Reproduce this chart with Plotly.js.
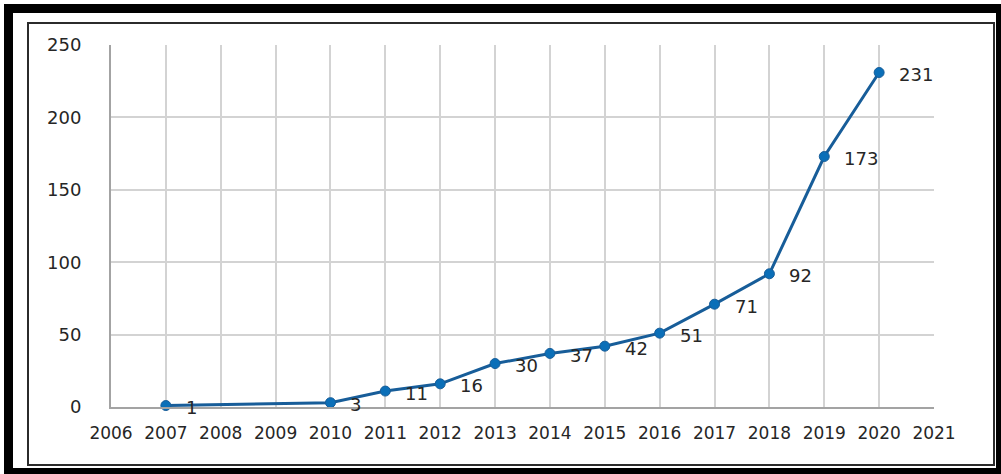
<!DOCTYPE html>
<html>
<head>
<meta charset="utf-8">
<script src="https://cdn.plot.ly/plotly-3.0.1.min.js"></script>
<style>
  html, body { margin: 0; padding: 0; background: #fff; overflow: hidden; }
  #wrap { position: relative; width: 1001px; height: 474px; overflow: hidden; }
  #chart { position: absolute; left: 0; top: 0; width: 1001px; height: 474px; }
  .frame-outer { position: absolute; left: 4px; top: 4px; width: 1001px; height: 473px;
    box-sizing: border-box; border: 9px solid #000; pointer-events: none; }
  .frame-inner { position: absolute; left: 27px; top: 22px; width: 968px; height: 444px;
    box-sizing: border-box; border: 2px solid #2b2b2b; pointer-events: none; }
</style>
</head>
<body>
<div id="wrap">
  <div id="chart"></div>
  <div class="frame-outer"></div>
  <div class="frame-inner"></div>
</div>
<script>
const years = [2007, 2010, 2011, 2012, 2013, 2014, 2015, 2016, 2017, 2018, 2019, 2020];
const counts = [1, 3, 11, 16, 30, 37, 42, 51, 71, 92, 173, 231];
const xTickVals = [2006, 2007, 2008, 2009, 2010, 2011, 2012, 2013, 2014, 2015, 2016, 2017, 2018, 2019, 2020, 2021];
const yTickVals = [0, 50, 100, 150, 200, 250];

const FONT = 'DejaVu Sans, Verdana, sans-serif';
const TEXT = '#262626';

const trace = {
  x: years,
  y: counts,
  type: 'scatter',
  mode: 'lines+markers',
  line: { color: '#175d99', width: 3 },
  marker: { color: '#0b6fb8', size: 10, line: { color: '#175d99', width: 1 } },
  hoverinfo: 'skip',
  cliponaxis: false
};

const annotations = years.map((yr, i) => ({
  x: yr, y: counts[i], xref: 'x', yref: 'y',
  text: String(counts[i]), showarrow: false,
  xanchor: 'left', yanchor: 'middle',
  xshift: 18, yshift: -2,
  font: { family: FONT, size: 18, color: TEXT }
}));

const layout = {
  width: 1001, height: 474,
  margin: { l: 111, r: 67, t: 45, b: 67 },
  paper_bgcolor: 'rgba(0,0,0,0)',
  plot_bgcolor: '#fff',
  showlegend: false,
  xaxis: {
    range: [2006, 2021],
    tickmode: 'array', tickvals: xTickVals, ticktext: xTickVals.map(String),
    showgrid: true, gridcolor: '#d3d3d3', gridwidth: 2,
    showline: true, linecolor: '#a3a3a3', linewidth: 2,
    zeroline: false, ticks: '',
    ticklabelstandoff: 10,
    tickfont: { family: FONT, size: 17, color: TEXT },
    fixedrange: true
  },
  yaxis: {
    range: [0, 250],
    tickmode: 'array', tickvals: yTickVals, ticktext: yTickVals.map(String),
    showgrid: true, gridcolor: '#d3d3d3', gridwidth: 2,
    showline: true, linecolor: '#a3a3a3', linewidth: 2,
    zeroline: false, ticks: '',
    ticklabelstandoff: 24,
    tickfont: { family: FONT, size: 18, color: TEXT },
    fixedrange: true
  },
  annotations: annotations
};

Plotly.newPlot('chart', [trace], layout, { displayModeBar: false, staticPlot: true });
</script>
</body>
</html>
